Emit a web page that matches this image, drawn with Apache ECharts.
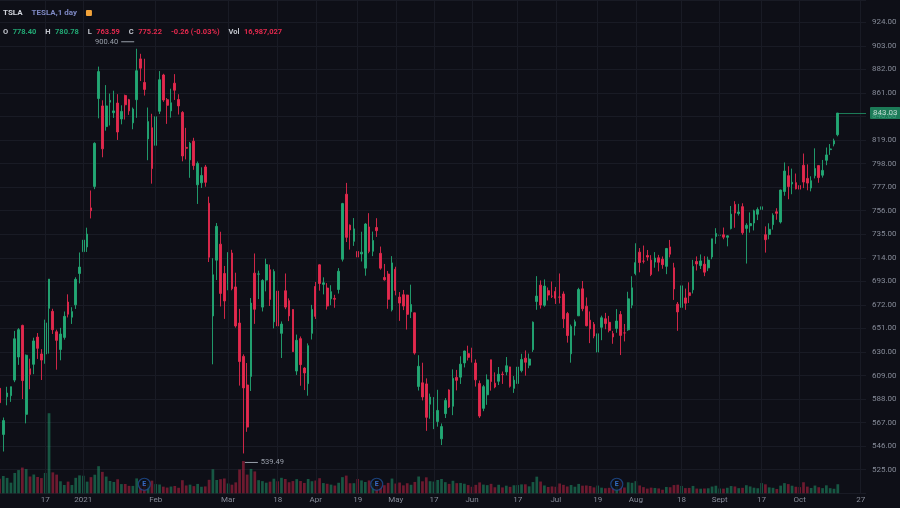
<!DOCTYPE html>
<html><head><meta charset="utf-8">
<script src="https://cdn.jsdelivr.net/npm/echarts@6/dist/echarts.min.js"></script>
<style>html,body{margin:0;padding:0;background:#0e0f17;}#c{width:900px;height:508px;}</style>
</head><body><div id="c"></div>
<script>
// ---------- DATA ----------
const symbolName = 'TSLA';
const description = 'TESLA,1 day';
const hdrOpen = '778.40', hdrHigh = '780.78', hdrLow = '763.59', hdrClose = '775.22';
const hdrChange = '-0.26 (-0.03%)', hdrVol = '16,987,027';

const dates = [
'2020-12-01','2020-12-02','2020-12-03','2020-12-04','2020-12-07','2020-12-08','2020-12-09','2020-12-10','2020-12-11','2020-12-14','2020-12-15','2020-12-16','2020-12-17','2020-12-18','2020-12-21','2020-12-22','2020-12-23','2020-12-24','2020-12-28','2020-12-29','2020-12-30','2020-12-31',
'2021-01-04','2021-01-05','2021-01-06','2021-01-07','2021-01-08','2021-01-11','2021-01-12','2021-01-13','2021-01-14','2021-01-15','2021-01-19','2021-01-20','2021-01-21','2021-01-22','2021-01-25','2021-01-26','2021-01-27','2021-01-28','2021-01-29',
'2021-02-01','2021-02-02','2021-02-03','2021-02-04','2021-02-05','2021-02-08','2021-02-09','2021-02-10','2021-02-11','2021-02-12','2021-02-16','2021-02-17','2021-02-18','2021-02-19','2021-02-22','2021-02-23','2021-02-24','2021-02-25','2021-02-26',
'2021-03-01','2021-03-02','2021-03-03','2021-03-04','2021-03-05','2021-03-08','2021-03-09','2021-03-10','2021-03-11','2021-03-12','2021-03-15','2021-03-16','2021-03-17','2021-03-18','2021-03-19','2021-03-22','2021-03-23','2021-03-24','2021-03-25','2021-03-26','2021-03-29','2021-03-30','2021-03-31',
'2021-04-01','2021-04-05','2021-04-06','2021-04-07','2021-04-08','2021-04-09','2021-04-12','2021-04-13','2021-04-14','2021-04-15','2021-04-16','2021-04-19','2021-04-20','2021-04-21','2021-04-22','2021-04-23','2021-04-26','2021-04-27','2021-04-28','2021-04-29','2021-04-30',
'2021-05-03','2021-05-04','2021-05-05','2021-05-06','2021-05-07','2021-05-10','2021-05-11','2021-05-12','2021-05-13','2021-05-14','2021-05-17','2021-05-18','2021-05-19','2021-05-20','2021-05-21','2021-05-24','2021-05-25','2021-05-26','2021-05-27','2021-05-28',
'2021-06-01','2021-06-02','2021-06-03','2021-06-04','2021-06-07','2021-06-08','2021-06-09','2021-06-10','2021-06-11','2021-06-14','2021-06-15','2021-06-16','2021-06-17','2021-06-18','2021-06-21','2021-06-22','2021-06-23','2021-06-24','2021-06-25','2021-06-28','2021-06-29','2021-06-30',
'2021-07-01','2021-07-02','2021-07-06','2021-07-07','2021-07-08','2021-07-09','2021-07-12','2021-07-13','2021-07-14','2021-07-15','2021-07-16','2021-07-19','2021-07-20','2021-07-21','2021-07-22','2021-07-23','2021-07-26','2021-07-27','2021-07-28','2021-07-29','2021-07-30',
'2021-08-02','2021-08-03','2021-08-04','2021-08-05','2021-08-06','2021-08-09','2021-08-10','2021-08-11','2021-08-12','2021-08-13','2021-08-16','2021-08-17','2021-08-18','2021-08-19','2021-08-20','2021-08-23','2021-08-24','2021-08-25','2021-08-26','2021-08-27','2021-08-30','2021-08-31',
'2021-09-01','2021-09-02','2021-09-03','2021-09-07','2021-09-08','2021-09-09','2021-09-10','2021-09-13','2021-09-14','2021-09-15','2021-09-16','2021-09-17','2021-09-20','2021-09-21','2021-09-22','2021-09-23','2021-09-24','2021-09-27','2021-09-28','2021-09-29','2021-09-30',
'2021-10-01','2021-10-04','2021-10-05','2021-10-06','2021-10-07','2021-10-08','2021-10-11','2021-10-12','2021-10-13','2021-10-14','2021-10-15'
];
const opens = [
597.59,556.44,590.02,591.01,604.92,625.51,653.69,574.37,615.01,619.00,643.28,628.23,628.19,668.90,666.24,648.00,632.20,642.99,674.51,661.00,672.00,699.99,
719.46,723.66,758.49,777.63,856.00,849.40,831.00,852.76,843.39,852.00,837.80,858.74,855.00,834.31,855.00,891.38,870.35,820.00,830.00,
814.29,844.68,877.02,855.00,845.00,869.67,855.12,843.64,812.44,801.26,818.00,779.09,780.90,795.00,762.64,662.13,711.85,726.15,700.00,
690.11,718.28,687.99,655.80,626.06,600.55,608.18,700.30,699.40,670.00,694.09,703.35,656.87,684.29,646.60,684.59,675.77,667.91,613.00,641.87,615.64,601.75,646.62,
688.37,707.71,690.30,687.00,677.38,677.77,685.70,712.70,770.70,743.10,728.65,719.60,717.42,704.77,741.50,719.80,741.00,717.96,696.41,699.51,667.59,
703.80,678.94,681.06,680.76,665.80,664.90,599.24,602.49,601.54,583.41,575.55,568.00,552.55,575.00,596.11,581.60,607.31,607.56,620.24,628.50,
627.80,620.13,601.80,579.71,591.83,623.01,602.17,603.88,610.23,612.23,616.69,597.54,601.89,613.37,624.48,618.25,632.00,674.99,689.58,671.64,684.65,679.77,
683.92,678.98,681.71,664.27,628.37,653.18,662.20,686.32,670.75,658.39,654.68,629.89,651.99,659.61,656.44,646.36,650.97,663.40,647.00,649.79,671.76,
700.00,719.00,711.00,716.00,711.90,710.17,713.99,712.71,706.34,723.71,705.07,672.66,669.75,678.21,682.85,685.44,710.68,707.03,708.31,705.00,714.72,733.00,
734.08,734.50,732.25,740.00,761.58,753.41,759.60,740.21,742.57,745.00,752.83,757.15,734.56,734.79,743.53,755.00,745.89,773.12,787.20,779.80,781.00,
778.40,796.50,784.80,776.20,787.20,796.21,787.65,800.93,810.47,815.49,823.74
];
const highs = [
597.85,571.54,598.97,599.04,648.79,651.28,654.32,627.75,624.00,642.75,646.90,632.50,658.82,695.00,668.50,649.88,651.50,666.09,681.40,669.90,696.60,718.72,
744.49,740.84,774.00,816.99,884.49,854.43,868.00,860.47,863.00,859.90,850.00,859.50,855.72,848.00,900.40,895.90,891.50,848.00,842.41,
842.00,880.50,878.08,856.50,864.77,877.77,859.80,844.82,829.88,817.33,821.00,799.84,794.69,796.79,768.50,713.61,745.00,737.21,706.70,
719.00,721.11,700.70,668.45,627.84,620.13,678.09,717.85,702.50,694.88,713.18,707.92,703.73,689.23,657.23,700.00,677.80,668.02,645.50,643.82,616.48,637.66,672.00,
692.42,708.16,696.55,691.38,689.55,680.97,704.80,763.00,780.79,743.69,749.41,725.40,737.25,744.84,753.77,737.36,749.30,724.00,708.50,702.25,715.47,
706.00,683.45,685.30,681.02,690.00,665.05,627.10,620.41,606.46,592.87,589.73,596.25,566.21,588.85,596.68,614.48,613.99,626.17,631.13,635.59,
633.80,623.36,604.55,600.61,610.00,623.09,611.79,616.59,612.56,625.49,616.79,608.50,621.47,628.35,631.39,628.57,657.20,697.62,693.81,694.70,687.51,692.81,
687.99,700.00,684.00,665.70,654.43,658.91,687.24,693.28,678.61,666.14,656.70,647.20,662.39,664.86,662.17,648.80,668.20,666.50,654.97,683.69,697.53,
726.94,722.65,724.90,720.95,716.33,719.03,716.59,715.18,722.80,729.90,709.50,674.58,695.77,686.55,692.13,712.13,715.22,716.97,715.40,715.00,731.00,740.39,
741.99,740.97,734.00,760.20,764.45,762.10,762.61,744.78,754.47,756.86,758.91,761.04,742.00,744.74,753.67,758.20,774.80,799.00,795.64,793.50,789.13,
780.78,806.97,797.31,786.66,811.60,796.38,801.24,812.32,815.41,820.25,843.21
];
const lows = [
572.05,541.21,582.43,585.50,603.05,618.50,588.00,566.34,596.80,610.20,623.80,605.00,619.50,628.54,646.07,614.23,622.57,641.00,660.80,655.00,668.36,691.12,
717.19,719.20,749.10,775.20,838.39,803.62,827.34,832.00,838.75,819.10,833.00,837.28,841.42,828.62,838.82,871.60,858.66,801.00,780.10,
795.56,842.20,853.06,833.42,838.97,854.75,841.75,800.02,801.73,785.33,792.44,762.01,776.27,777.37,710.20,619.00,694.17,670.58,659.51,
685.05,685.00,651.71,600.00,539.49,558.79,595.21,655.06,677.18,666.14,684.04,671.00,651.01,652.00,624.62,668.16,657.51,630.11,609.50,599.89,596.02,591.01,641.11,
659.42,684.70,681.37,667.84,671.65,669.43,682.09,710.66,728.03,721.31,724.60,691.80,710.69,698.00,718.04,715.46,732.61,703.35,693.60,668.50,666.14,
680.50,657.70,667.34,650.00,660.22,627.61,595.60,586.77,559.65,570.46,561.20,563.38,546.98,571.07,580.00,573.65,595.71,601.50,616.21,622.38,
620.55,599.14,571.22,577.20,582.88,595.50,597.63,600.50,601.52,609.18,598.23,593.50,601.34,611.80,608.88,615.50,630.04,667.61,668.70,670.32,675.89,678.14,
672.80,673.26,651.40,638.32,620.46,644.69,662.16,666.30,652.84,637.88,642.20,621.29,640.50,650.29,647.50,637.30,647.11,627.24,639.40,648.80,669.00,
698.40,701.01,708.93,711.41,697.63,705.13,701.88,704.21,699.40,714.34,676.40,648.84,669.35,667.59,673.70,682.20,702.64,704.00,697.62,702.10,712.73,726.44,
731.27,730.54,724.20,739.26,740.77,751.63,734.52,708.85,736.40,738.36,747.61,750.00,718.62,730.44,739.12,747.92,744.56,769.31,766.18,770.68,775.00,
763.59,776.12,774.20,773.22,784.77,780.91,785.50,796.57,805.78,813.35,822.35
];
const closes = [
584.76,568.82,593.38,599.04,641.76,649.88,604.48,627.07,609.99,639.83,633.25,622.77,655.90,695.00,649.86,640.34,645.98,661.77,663.69,665.99,694.78,705.67,
729.77,735.11,755.98,816.04,880.02,811.19,849.44,854.41,845.00,826.16,844.55,850.45,844.99,846.64,880.80,883.09,864.16,835.43,793.53,
839.81,872.79,854.69,849.99,852.23,863.42,849.46,804.82,811.66,816.12,796.22,798.15,787.38,781.30,714.50,698.84,742.02,682.22,675.50,
718.43,686.44,653.20,621.44,597.95,563.00,673.58,668.06,699.60,693.73,707.94,676.88,701.81,653.16,654.87,670.00,662.16,630.27,640.39,618.71,611.29,635.62,667.93,
661.75,691.05,691.62,670.97,683.80,677.02,701.98,762.32,732.23,738.85,739.78,714.63,718.99,744.12,719.69,729.40,738.20,704.74,694.40,677.00,709.44,
684.90,673.60,670.94,663.54,672.37,629.04,617.20,589.89,571.69,589.74,576.83,577.87,563.46,586.78,580.88,606.44,604.69,619.13,630.85,625.22,
623.90,605.12,572.84,599.05,605.13,603.59,598.78,610.12,609.89,617.69,599.36,604.87,616.60,623.31,620.83,623.71,656.57,679.82,671.87,688.72,680.76,679.70,
677.92,678.90,659.58,644.65,652.81,656.95,685.70,668.54,653.38,650.60,644.22,646.22,660.50,655.29,649.26,643.38,657.62,644.78,646.98,677.35,687.20,
709.67,709.74,710.92,714.63,699.10,713.76,709.99,707.82,722.25,717.17,686.17,665.71,688.99,673.47,680.26,706.30,708.49,711.20,701.16,711.92,730.91,735.72,
734.09,732.39,733.57,752.92,753.87,754.86,736.27,743.00,744.49,755.83,756.99,759.49,730.17,739.38,751.94,753.64,774.39,791.36,777.56,781.31,775.48,
775.22,781.53,780.59,782.75,793.61,785.49,791.94,805.72,811.08,818.32,843.03
];
const volumes = [ // millions of shares
40.1,47.8,42.6,29.4,56.3,64.3,71.3,67.1,46.5,52.0,45.1,42.1,56.3,222.1,58.0,51.7,33.2,22.9,32.3,22.9,42.8,49.6,
48.6,32.2,44.7,51.5,75.1,59.3,46.3,34.0,31.3,38.8,25.4,25.7,20.5,20.4,41.2,23.1,27.3,26.4,35.0,
25.4,24.3,18.3,15.8,18.6,20.2,15.2,36.2,21.6,23.8,19.8,25.9,18.0,19.0,37.3,66.6,36.8,39.0,41.0,
27.1,23.7,30.2,65.9,89.4,51.8,67.5,60.6,36.3,33.6,29.3,32.2,40.4,33.2,42.9,39.5,30.5,33.8,39.2,33.9,28.6,39.5,33.3,
35.3,41.8,28.3,26.3,23.9,21.4,29.1,44.7,49.0,27.8,27.9,39.7,35.6,31.2,35.6,28.4,31.0,29.4,22.3,28.8,40.8,
27.0,29.7,21.9,27.8,23.5,31.4,46.5,33.1,44.2,33.4,32.4,36.8,39.6,30.8,26.0,34.6,28.0,28.6,26.4,22.7,
18.0,23.3,30.1,24.0,22.5,26.1,16.6,23.5,16.2,21.0,17.8,22.1,22.7,24.6,24.8,19.2,31.1,46.0,32.5,21.6,17.4,18.9,
18.0,27.1,23.3,18.8,22.8,18.1,25.9,21.0,21.6,20.2,16.3,21.3,15.5,13.9,15.1,14.6,25.0,32.8,16.0,30.4,29.0,
33.6,21.6,17.0,12.9,15.6,14.7,13.4,9.8,17.5,16.7,22.7,23.7,20.3,14.3,14.8,20.3,13.0,12.6,13.2,13.8,18.6,20.9,
13.2,12.8,15.2,20.0,18.8,14.1,15.1,22.3,18.9,15.4,13.9,28.2,24.8,16.3,15.1,11.9,21.1,28.1,25.4,20.9,18.0,
17.0,30.5,18.4,14.6,21.4,16.7,14.2,22.0,14.1,12.4,25.0
];
// time-axis tick labels (bar index -> text)
const tickIdx = [12,22,41,60,73,83,94,104,114,124,136,146,157,167,179,189,200,210,226];
const tickText = ['17','2021','Feb','Mar','18','Apr','19','May','17','Jun','17','Jul','19','Aug','18','Sept','17','Oct','27'];
// earnings events (bar indices)
const earningsIdx = [38, 99, 162];

// ---------- STYLE ----------
const BG = '#0e0f17', UP = '#22a874', DOWN = '#e3294d';
const VUP = 'rgba(34,168,116,0.48)', VDOWN = 'rgba(227,41,77,0.45)';
const GRID = '#191b25', TXT = '#868b98';
const FONT = 'Roboto, "Liberation Sans", sans-serif';
const X_MIN = 0.131, X_MAX = 227.4;

const n = dates.length;
const candles = dates.map((d, i) => [i, opens[i], closes[i], lows[i], highs[i]]);
const vols = dates.map((d, i) => ({ value: [i, volumes[i]], itemStyle: { color: closes[i] >= opens[i] ? VUP : VDOWN } }));
let hiI = 0, loI = 0;
for (let i = 0; i < n; i++) { if (highs[i] > highs[hiI]) hiI = i; if (lows[i] < lows[loI]) loI = i; }
const lastI = n - 1;
const tickMap = {}; tickIdx.forEach((v, k) => tickMap[v] = tickText[k]);

const chart = echarts.init(document.getElementById('c'), null, { renderer: 'canvas' });
chart.setOption({
  backgroundColor: BG,
  animation: false,
  textStyle: { fontFamily: FONT },
  title: [
    { left: 3, top: 4, padding: 0,
      text: `{s|${symbolName}}  {d|${description}}  {b|}`,
      textStyle: { rich: {
        s: { fontSize: 8, fontWeight: 'bold', color: '#d1d4dc', fontFamily: FONT },
        d: { fontSize: 8, color: '#7e89c4', fontFamily: FONT },
        b: { width: 6, height: 6, backgroundColor: '#f2a33a', borderRadius: 1 } } } },
    { left: 3, top: 23, padding: 0,
      text: `{k|O} {g|${hdrOpen}}  {k|H} {g|${hdrHigh}}  {k|L} {r|${hdrLow}}  {k|C} {r|${hdrClose}}  {r|${hdrChange}}  {k|Vol} {r|${hdrVol}}`,
      textStyle: { rich: {
        k: { fontSize: 7.5, color: '#c3c6ce', fontFamily: FONT },
        g: { fontSize: 7.5, color: UP, fontFamily: FONT },
        r: { fontSize: 7.5, color: DOWN, fontFamily: FONT } } } }
  ],
  grid: [
    { left: 0, right: 34, top: 0, bottom: 14.75 },
    { left: 0, right: 34, bottom: 14.75, height: 120 }
  ],
  xAxis: [
    { type: 'value', gridIndex: 0, min: X_MIN, max: X_MAX,
      axisLine: { show: false }, axisTick: { show: false }, axisLabel: { show: false }, splitLine: { show: false } },
    { type: 'value', gridIndex: 1, min: X_MIN, max: X_MAX,
      axisLine: { show: false }, axisTick: { show: false }, splitLine: { show: false },
      axisLabel: { show: true, customValues: tickIdx, color: TXT, fontSize: 8, margin: 3,
        formatter: v => tickMap[Math.round(v)] || '' } }
  ],
  yAxis: [
    { type: 'value', gridIndex: 0, position: 'right', min: 504, max: 943.89, interval: 21,
      axisLine: { show: false }, axisTick: { show: false },
      splitLine: { show: true, lineStyle: { color: GRID, width: 1 } },
      axisLabel: { color: TXT, fontSize: 8, margin: 6,
        formatter: v => (v >= 525 && v <= 925 && Math.abs(v / 21 - Math.round(v / 21)) < 1e-6) ? v.toFixed(2) : '' } },
    { type: 'value', gridIndex: 1, min: 0, max: 333, show: false, splitLine: { show: false } }
  ],
  series: [
    // vertical time grid lines (full pane height)
    { type: 'line', xAxisIndex: 0, yAxisIndex: 0, data: [[0, closes[0]]], showSymbol: false, silent: true, z: 0,
      lineStyle: { opacity: 0 },
      markLine: { silent: true, symbol: 'none', label: { show: false }, animation: false,
        lineStyle: { color: GRID, width: 1, type: 'solid' },
        data: tickIdx.map(i => ({ xAxis: i })) } },
    { type: 'bar', xAxisIndex: 1, yAxisIndex: 1, data: vols, barWidth: 2.7, silent: true, z: 1 },
    { type: 'candlestick', xAxisIndex: 0, yAxisIndex: 0, data: candles, clip: false, z: 3,
      encode: { x: 0, y: [1, 2, 3, 4] },
      barWidth: 2.2,
      itemStyle: { color: UP, color0: DOWN, borderColor: UP, borderColor0: DOWN, borderWidth: 0.9 },
      markPoint: { silent: true, animation: false,
        data: [
          { coord: [hiI, highs[hiI]], symbol: 'rect', symbolSize: [13, 1], symbolOffset: [-9, -7],
            itemStyle: { color: '#9aa0ab' },
            label: { show: true, position: 'left', distance: 3, formatter: highs[hiI].toFixed(2), color: '#9aa0ab', fontSize: 7.5 } },
          { coord: [loI, lows[loI]], symbol: 'rect', symbolSize: [13, 1], symbolOffset: [8, 9],
            itemStyle: { color: '#9aa0ab' },
            label: { show: true, position: 'right', distance: 3, formatter: lows[loI].toFixed(2), color: '#9aa0ab', fontSize: 7.5 } }
        ] },
      markLine: { silent: true, symbol: 'none', animation: false,
        lineStyle: { color: UP, width: 1, type: 'solid', opacity: 0.7 },
        label: { show: true, position: 'end', distance: 4, formatter: closes[lastI].toFixed(2),
          color: '#ffffff', backgroundColor: UP, padding: [2, 3, 2, 3], fontSize: 8, borderRadius: 1 },
        data: [[ { coord: [lastI, closes[lastI]] }, { coord: [X_MAX, closes[lastI]] } ]] } },
    { type: 'scatter', xAxisIndex: 1, yAxisIndex: 1, z: 5, silent: true,
      data: earningsIdx.map(i => [i, 0]),
      symbol: 'circle', symbolSize: 12, symbolOffset: [0, -9],
      itemStyle: { color: BG, borderColor: '#1f4f96', borderWidth: 1.2 },
      label: { show: true, position: 'inside', formatter: 'E', color: '#3d82ee', fontSize: 7, fontWeight: 'bold' } }
  ]
});
</script></body></html>
